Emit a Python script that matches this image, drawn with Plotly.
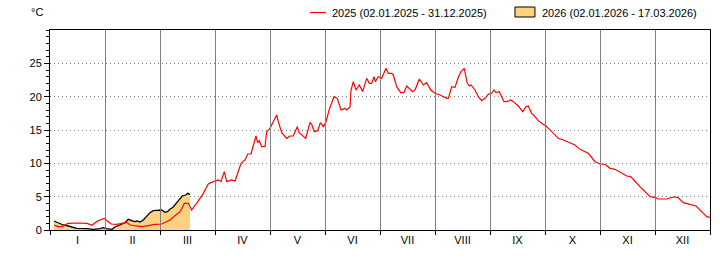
import plotly.graph_objects as go

# ---- data (x in months since 1 Jan, equal-width months) ----
month_labels = ["I", "II", "III", "IV", "V", "VI", "VII", "VIII", "IX", "X", "XI", "XII"]
month_centers = [i + 0.5 for i in range(12)]
month_edges = list(range(1, 12))

t_2025 = [0.073, 0.145, 0.236, 0.327, 0.509, 0.673, 0.764, 0.855, 0.909, 0.987,
          1.060, 1.109, 1.213, 1.304, 1.395, 1.455, 1.576, 1.667, 1.787, 1.909,
          2.031, 2.104, 2.182, 2.273, 2.364, 2.405, 2.442, 2.515, 2.576, 2.624,
          2.667, 2.787, 2.878, 2.969, 3.060, 3.109, 3.169, 3.213, 3.304, 3.364,
          3.424, 3.473, 3.545, 3.595, 3.655, 3.696, 3.745, 3.776, 3.805, 3.849,
          3.909, 3.940, 4.000, 4.060, 4.122, 4.151, 4.213, 4.304, 4.364, 4.424,
          4.496, 4.527, 4.649, 4.727, 4.758, 4.805, 4.867, 4.915, 4.969, 5.013,
          5.078, 5.164, 5.224, 5.291, 5.364, 5.395, 5.455, 5.473, 5.515, 5.564,
          5.624, 5.685, 5.758, 5.805, 5.849, 5.891, 5.915, 5.969, 6.031, 6.109,
          6.151, 6.213, 6.242, 6.304, 6.376, 6.436, 6.485, 6.595, 6.642, 6.715,
          6.787, 6.849, 6.922, 7.000, 7.091, 7.213, 7.242, 7.304, 7.364, 7.424,
          7.473, 7.533, 7.587, 7.624, 7.655, 7.727, 7.787, 7.849, 7.909, 7.969,
          8.031, 8.073, 8.109, 8.169, 8.213, 8.255, 8.304, 8.376, 8.424, 8.515,
          8.595, 8.655, 8.696, 8.758, 8.818, 8.878, 8.958, 9.018, 9.122, 9.242,
          9.333, 9.455, 9.545, 9.636, 9.787, 9.909, 10.000, 10.091, 10.182, 10.273,
          10.395, 10.485, 10.558, 10.636, 10.727, 10.818, 10.909, 11.000, 11.060, 11.213,
          11.333, 11.413, 11.515, 11.636, 11.745, 11.849, 11.940, 12.000]
temp_2025 = [0.75, 0.5, 0.55, 1.0, 1.05, 1.0, 0.7, 1.3, 1.5, 1.75,
             1.25, 0.9, 0.85, 0.95, 1.15, 0.75, 0.65, 0.5, 0.65, 0.85,
             0.9, 1.15, 1.5, 2.15, 2.75, 3.35, 4.0, 4.0, 3.0, 3.6,
             4.0, 5.5, 6.9, 7.25, 7.5, 7.25, 8.75, 7.25, 7.5, 7.35,
             9.0, 10.0, 10.5, 11.4, 11.4, 12.75, 14.1, 13.1, 13.4, 12.5,
             12.5, 14.75, 15.25, 16.25, 17.25, 16.25, 14.6, 13.75, 14.1, 14.1,
             15.5, 14.65, 13.75, 16.1, 15.85, 14.75, 14.9, 16.1, 15.5, 16.1,
             18.1, 20.0, 19.75, 18.0, 18.25, 18.0, 18.5, 21.0, 22.25, 21.0,
             21.75, 20.75, 22.75, 22.0, 22.0, 23.0, 22.25, 23.0, 22.75, 24.25,
             23.5, 23.5, 23.25, 21.5, 20.6, 20.6, 21.6, 20.75, 21.1, 22.65,
             21.75, 22.1, 21.0, 20.5, 20.25, 19.75, 19.75, 21.5, 21.4, 22.9,
             23.75, 24.25, 22.0, 21.6, 21.75, 21.0, 20.0, 19.4, 19.75, 20.35,
             20.5, 21.0, 20.6, 20.75, 20.1, 19.25, 19.25, 19.5, 19.25, 18.6,
             17.75, 18.5, 18.6, 17.5, 17.0, 16.4, 15.9, 15.6, 14.75, 13.75,
             13.5, 13.0, 12.75, 12.1, 11.5, 10.25, 9.9, 9.85, 9.25, 9.1,
             8.5, 8.1, 8.0, 7.25, 6.5, 5.75, 5.0, 4.9, 4.65, 4.65,
             4.95, 4.9, 4.1, 3.85, 3.6, 2.75, 2.0, 1.9]

t_2026 = [0.073, 0.151, 0.242, 0.333, 0.485, 0.667, 0.787, 0.909, 0.969, 1.031,
          1.127, 1.182, 1.273, 1.355, 1.424, 1.485, 1.533, 1.587, 1.636, 1.696,
          1.758, 1.818, 1.878, 1.969, 2.031, 2.091, 2.133, 2.182, 2.242, 2.304,
          2.364, 2.405, 2.467, 2.504, 2.545]
temp_2026 = [1.35, 1.1, 0.75, 0.6, 0.25, 0.2, 0.1, 0.2, 0.35, 0.2,
             0.1, 0.45, 0.8, 1.05, 1.6, 1.35, 1.25, 1.35, 1.2, 1.5,
             2.0, 2.6, 2.9, 2.9, 3.0, 2.65, 2.75, 3.1, 3.45, 4.1,
             4.6, 5.1, 5.25, 5.5, 5.35]

y_ticks = [0, 5, 10, 15, 20, 25]
label_2025 = "2025 (02.01.2025 - 31.12.2025)"
label_2026 = "2026 (02.01.2026 - 17.03.2026)"
unit = "°C"

# ---- style ----
FONT = "Liberation Sans, Arial, sans-serif"
FILL = "#FFD27F"
GRID = "#808080"

fig = go.Figure()
fig.add_trace(go.Scatter(x=t_2026, y=temp_2026, mode="lines", fill="tozeroy",
                         fillcolor=FILL, line=dict(color="black", width=1.3),
                         showlegend=False, hoverinfo="skip"))
fig.add_trace(go.Scatter(x=t_2025, y=temp_2025, mode="lines",
                         line=dict(color="#FF0000", width=1.2),
                         showlegend=False, hoverinfo="skip"))

# month separators drawn above the fill (crisp: half-pixel offset)
for e in month_edges:
    fig.add_shape(type="line", xref="x", yref="paper", xsizemode="pixel", xanchor=e,
                  x0=0.5, x1=0.5, y0=0, y1=1,
                  line=dict(color=GRID, width=1), layer="above")

# custom legend
fig.add_shape(type="line", xref="paper", yref="paper", x0=0.3939, x1=0.4182,
              y0=1.0875, y1=1.0875, line=dict(color="#FF0000", width=1.2))
fig.add_annotation(xref="paper", yref="paper", x=0.4242, y=1.0875, text=label_2025,
                   showarrow=False, xanchor="left", yanchor="middle",
                   font=dict(family=FONT, size=11, color="black"))
fig.add_shape(type="rect", xref="paper", yref="paper", x0=0.7045, x1=0.7348,
              y0=1.065, y1=1.115, fillcolor=FILL, line=dict(color="black", width=1))
fig.add_annotation(xref="paper", yref="paper", x=0.7424, y=1.0875, text=label_2026,
                   showarrow=False, xanchor="left", yanchor="middle",
                   font=dict(family=FONT, size=11, color="black"))
fig.add_annotation(xref="paper", yref="paper", x=-0.032, y=1.0885, text=unit,
                   showarrow=False, xanchor="left", yanchor="middle",
                   font=dict(family=FONT, size=11, color="black"))

fig.update_layout(
    width=720, height=260,
    margin=dict(l=50, r=10, t=30, b=30),
    paper_bgcolor="white", plot_bgcolor="white",
    font=dict(family=FONT, size=11, color="black"),
    showlegend=False,
)
fig.update_xaxes(
    range=[0, 12], tickmode="array", tickvals=month_centers, ticktext=month_labels,
    ticks="", showgrid=False, zeroline=False,
    showline=True, linecolor="black", linewidth=1, mirror=True,
    minor=dict(tick0=0, dtick=1, ticks="outside", ticklen=4, tickcolor="black",
               showgrid=False),
    tickfont=dict(family=FONT, size=11, color="black"),
)
fig.update_yaxes(
    range=[0, 30], tickmode="array", tickvals=y_ticks,
    ticks="outside", ticklen=5, tickcolor="black",
    showgrid=True, gridcolor=GRID, griddash="1px,3px", gridwidth=1,
    zeroline=False, showline=True, linecolor="black", linewidth=1, mirror=True,
    minor=dict(tick0=0, dtick=1, ticks="outside", ticklen=3, tickcolor="black",
               showgrid=False),
    tickfont=dict(family=FONT, size=11, color="black"),
)

fig.write_html("out.html")
